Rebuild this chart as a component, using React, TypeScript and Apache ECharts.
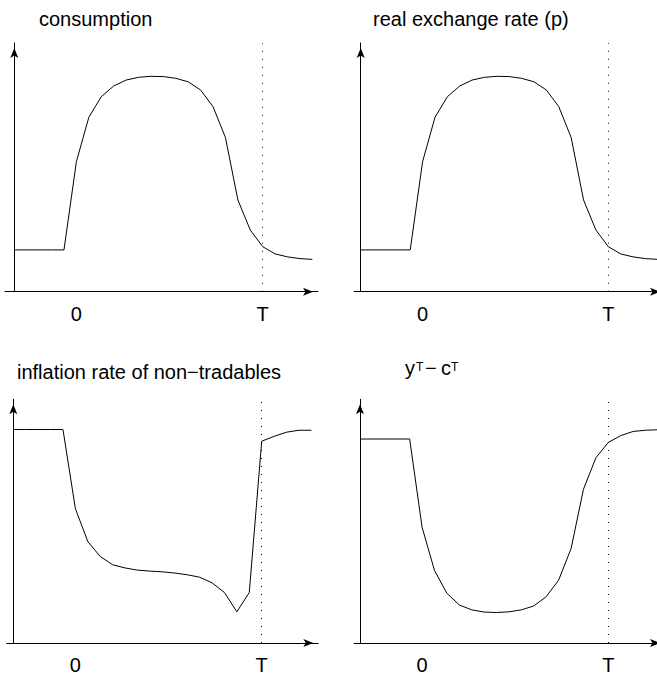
import React, { useEffect, useRef } from "react";
import * as echarts from "echarts";

// Time periods: 0 is the start of the policy, T (= 15) is its end.
const periods = [-5, -4, -3, -2, -1, 0, 1, 2, 3, 4, 5, 6, 7, 8, 9, 10, 11, 12, 13, 14, 15, 16, 17, 18, 19];
const timeTickValues = [0, 15];
const timeTickLabels = ["0", "T"];

// Paths (arbitrary units, 0 = horizontal axis, 100 = top of the vertical axis)
const consumption = [
  16.8, 16.8, 16.8, 16.8, 16.8, 52.3, 70.1, 78.4, 82.7, 85.1, 86.2, 86.6, 86.5,
  85.8, 84.4, 81.1, 74.4, 62.0, 36.9, 24.8, 18.1, 15.2, 14.0, 13.3, 13.0,
];
const realExchangeRate = [
  16.8, 16.8, 16.8, 16.8, 16.8, 52.3, 70.1, 78.4, 82.7, 85.1, 86.2, 86.6, 86.5,
  85.8, 84.4, 81.1, 74.4, 62.0, 36.9, 24.8, 18.1, 15.2, 14.0, 13.3, 13.0,
];
const inflationNonTradables = [
  87.6, 87.6, 87.6, 87.6, 87.6, 55.1, 41.6, 35.5, 32.1, 30.8, 29.9, 29.5, 29.2,
  28.7, 28.0, 27.0, 24.7, 20.7, 12.8, 20.7, 82.8, 84.8, 86.5, 87.3, 87.3,
];
const tradablesBalance = [
  83.7, 83.7, 83.7, 83.7, 83.7, 47.5, 29.8, 20.4, 15.6, 13.6, 12.7, 12.5, 12.8,
  13.6, 15.2, 19.0, 25.8, 38.7, 63.1, 76.0, 82.3, 85.1, 86.8, 87.3, 87.5,
];

const FONT = "'Liberation Sans', Arial, Helvetica, sans-serif";
const INK = "#000";

// The drawing surface is a little wider than the visible page so the
// right-hand panels can run off the edge, as in a cropped figure.
const VIEW_W = 657;
const VIEW_H = 675;
const CANVAS_W = 690;

type Panel = {
  values: number[];
  left: number; // start of the horizontal axis line
  right: number; // tip of the horizontal arrow
  top: number; // tip of the vertical arrow
  bottom: number; // horizontal axis
  yAxisX: number; // where the vertical axis stands (period -5)
  markX: number; // pixel column of period T
};

const panels: Panel[] = [
  { values: consumption, left: 5, right: 318, top: 43, bottom: 291.7, yAxisX: 14.3, markX: 262.7 },
  { values: realExchangeRate, left: 354, right: 665, top: 43, bottom: 291.7, yAxisX: 360.7, markX: 608.3 },
  { values: inflationNonTradables, left: 6.7, right: 318.3, top: 399.3, bottom: 646, yAxisX: 13.3, markX: 261.7 },
  { values: tradablesBalance, left: 354, right: 665, top: 399.3, bottom: 645, yAxisX: 360, markX: 608.3 },
];

const ARROW: [number, number] = [6, 10];

function buildOption(): echarts.EChartsOption {
  const grid: any[] = [];
  const xAxis: any[] = [];
  const yAxis: any[] = [];
  const series: any[] = [];

  panels.forEach((p, i) => {
    const ppu = (p.markX - p.yAxisX) / 20;
    const xMin = -5 - (p.yAxisX - p.left) / ppu;
    const xMax = 15 + (p.right - p.markX) / ppu;

    grid.push({
      left: p.left,
      top: p.top,
      width: p.right - p.left,
      height: p.bottom - p.top,
      containLabel: false,
    });

    xAxis.push({
      type: "value",
      gridIndex: i,
      min: xMin,
      max: xMax,
      position: "bottom",
      axisLine: {
        show: true,
        onZero: false,
        symbol: ["none", "arrow"],
        symbolSize: ARROW,
        symbolOffset: [0, -ARROW[1] / 2],
        lineStyle: { color: INK, width: 1 },
      },
      axisTick: { show: false },
      splitLine: { show: false },
      axisLabel: {
        show: true,
        customValues: timeTickValues,
        formatter: (v: number) => timeTickLabels[timeTickValues.indexOf(v)] ?? "",
        color: INK,
        fontSize: 20,
        fontFamily: FONT,
        margin: 12,
      },
    });

    yAxis.push({
      type: "value",
      gridIndex: i,
      min: 0,
      max: 100,
      position: "left",
      offset: -(p.yAxisX - p.left),
      axisLine: {
        show: true,
        onZero: false,
        symbol: ["none", "arrow"],
        symbolSize: ARROW,
        symbolOffset: [0, -ARROW[1] / 2],
        lineStyle: { color: INK, width: 1 },
      },
      axisTick: { show: false },
      splitLine: { show: false },
      axisLabel: { show: false },
    });

    series.push({
      type: "line",
      xAxisIndex: i,
      yAxisIndex: i,
      data: periods.map((t, k) => [t, p.values[k]]),
      showSymbol: false,
      smooth: false,
      lineStyle: { color: INK, width: 1 },
      silent: true,
      markLine: {
        silent: true,
        symbol: ["none", "none"],
        label: { show: false },
        lineStyle: { color: INK, width: 1, type: [1, 7] },
        data: [{ xAxis: timeTickValues[1] }],
      },
    });
  });

  const titleText = (text: string, x: number, y: number, size = 20) => ({
    type: "text",
    x,
    y,
    silent: true,
    style: {
      text,
      fill: INK,
      font: `${size}px ${FONT}`,
      textAlign: "left",
      textVerticalAlign: "middle",
    },
  });

  const graphic = [
    titleText("consumption", 39, 19),
    titleText("real exchange rate (p)", 373, 19),
    titleText("inflation rate of non\u2212tradables", 17, 371.5),
    titleText("y", 405, 368),
    titleText("T", 416, 367, 12),
    titleText("\u2212", 425, 368),
    titleText("c", 441, 368),
    titleText("T", 451, 367, 12),
  ];

  return {
    animation: false,
    backgroundColor: "#fff",
    textStyle: { fontFamily: FONT },
    grid,
    xAxis,
    yAxis,
    series,
    graphic,
  } as echarts.EChartsOption;
}

export default function App() {
  const ref = useRef<HTMLDivElement>(null);

  useEffect(() => {
    if (!ref.current) return;
    const chart = echarts.init(ref.current, null, { renderer: "svg" });
    chart.setOption(buildOption());
    return () => chart.dispose();
  }, []);

  return (
    <div
      style={{
        position: "absolute",
        left: 0,
        top: 0,
        width: VIEW_W,
        height: VIEW_H,
        overflow: "hidden",
        background: "#fff",
      }}
    >
      <div ref={ref} style={{ width: CANVAS_W, height: VIEW_H }} />
    </div>
  );
}
